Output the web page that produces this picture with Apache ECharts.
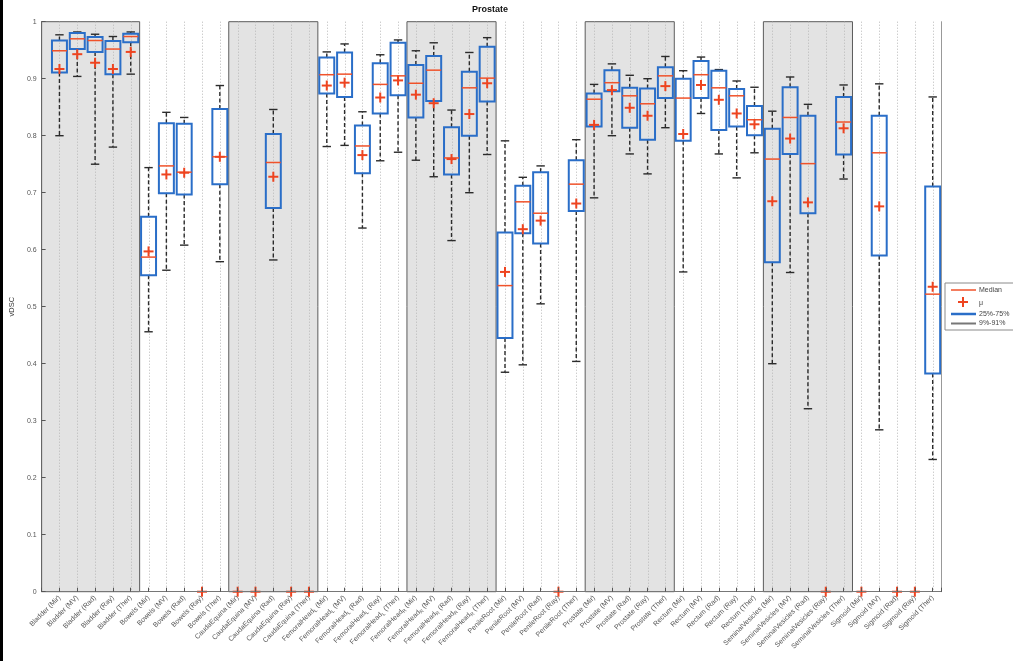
<!DOCTYPE html>
<html>
<head>
<meta charset="utf-8">
<script src="https://cdn.jsdelivr.net/npm/echarts@6/dist/echarts.min.js"></script>
<style>
html,body{margin:0;padding:0;background:#fff;}
#chart{width:1013px;height:661px;}
</style>
</head>
<body>
<div id="chart"></div>
<script>
// ---------------- data ----------------
const categories = [
  'Bladder (Mir)','Bladder (MV)','Bladder (Rad)','Bladder (Ray)','Bladder (Ther)',
  'Bowels (Mir)','Bowels (MV)','Bowels (Rad)','Bowels (Ray)','Bowels (Ther)',
  'CaudaEquina (Mir)','CaudaEquina (MV)','CaudaEquina (Rad)','CaudaEquina (Ray)','CaudaEquina (Ther)',
  'FemoralHead_L (Mir)','FemoralHead_L (MV)','FemoralHead_L (Rad)','FemoralHead_L (Ray)','FemoralHead_L (Ther)',
  'FemoralHead_R (Mir)','FemoralHead_R (MV)','FemoralHead_R (Rad)','FemoralHead_R (Ray)','FemoralHead_R (Ther)',
  'PenileRoot (Mir)','PenileRoot (MV)','PenileRoot (Rad)','PenileRoot (Ray)','PenileRoot (Ther)',
  'Prostate (Mir)','Prostate (MV)','Prostate (Rad)','Prostate (Ray)','Prostate (Ther)',
  'Rectum (Mir)','Rectum (MV)','Rectum (Rad)','Rectum (Ray)','Rectum (Ther)',
  'SeminalVesicles (Mir)','SeminalVesicles (MV)','SeminalVesicles (Rad)','SeminalVesicles (Ray)','SeminalVesicles (Ther)',
  'Sigmoid (Mir)','Sigmoid (MV)','Sigmoid (Rad)','Sigmoid (Ray)','Sigmoid (Ther)'
];
// 9th percentile (lower whisker)
const whiskerLow = [
  0.800,0.904,0.750,0.780,0.908,
  0.456,0.564,0.608,null,0.579,
  null,null,0.582,null,null,
  0.781,0.783,0.638,0.756,0.771,
  0.757,0.728,0.616,0.700,0.767,
  0.385,0.398,0.505,null,0.404,
  0.691,0.800,0.768,0.733,0.814,
  0.561,0.839,0.768,0.726,0.770,
  0.400,0.560,0.321,null,0.724,
  null,0.284,null,null,0.232
];
// 25th percentile
const q1 = [
  0.911,0.952,0.947,0.908,0.964,
  0.555,0.699,0.697,null,0.715,
  null,null,0.673,null,null,
  0.874,0.868,0.734,0.839,0.871,
  0.832,0.861,0.732,0.800,0.860,
  0.445,0.629,0.611,null,0.668,
  0.816,0.878,0.814,0.793,0.866,
  0.791,0.866,0.810,0.816,0.801,
  0.578,0.768,0.664,null,0.767,
  null,0.590,null,null,0.383
];
const median = [
  0.949,0.970,0.967,0.952,0.974,
  0.587,0.747,0.736,null,0.763,
  null,null,0.753,null,null,
  0.907,0.908,0.782,0.890,0.905,
  0.892,0.915,0.761,0.884,0.901,
  0.537,0.684,0.664,null,0.715,
  0.864,0.893,0.870,0.856,0.905,
  0.866,0.907,0.884,0.870,0.828,
  0.759,0.832,0.751,null,0.824,
  null,0.770,null,null,0.522
];
// 75th percentile
const q3 = [
  0.967,0.980,0.973,0.966,0.979,
  0.658,0.822,0.821,null,0.847,
  null,null,0.803,null,null,
  0.937,0.946,0.818,0.927,0.963,
  0.924,0.940,0.815,0.912,0.956,
  0.630,0.712,0.736,null,0.757,
  0.874,0.915,0.884,0.883,0.920,
  0.900,0.931,0.914,0.882,0.852,
  0.812,0.885,0.835,null,0.868,
  null,0.835,null,null,0.711
];
// 91st percentile (upper whisker)
const whiskerHigh = [
  0.977,0.982,0.978,0.974,0.982,
  0.744,0.841,0.832,null,0.888,
  null,null,0.846,null,null,
  0.947,0.961,0.842,0.942,0.968,
  0.949,0.963,0.845,0.946,0.972,
  0.791,0.727,0.747,null,0.793,
  0.890,0.926,0.906,0.900,0.939,
  0.914,0.938,0.916,0.896,0.885,
  0.843,0.903,0.855,null,0.889,
  null,0.891,null,null,0.868
];
const means = [
  0.917,0.943,0.928,0.917,0.947,
  0.597,0.732,0.735,0,0.763,
  0,0,0.728,0,0,
  0.888,0.893,0.766,0.867,0.897,
  0.872,0.857,0.759,0.838,0.892,
  0.561,0.636,0.651,0,0.681,
  0.819,0.880,0.849,0.835,0.887,
  0.803,0.889,0.863,0.839,0.820,
  0.685,0.795,0.683,0,0.813,
  0,0.676,0,0,0.535
];
const yTicks = ['0','0.1','0.2','0.3','0.4','0.5','0.6','0.7','0.8','0.9','1'];
// shaded organ groups (category index ranges, first..last, 1-based)
const shadedGroups = [[1,5],[11,15],[21,25],[31,35],[41,45]];
const legendItems = ['Median','\u03bc','25%-75%','9%-91%'];
const titleText = 'Prostate';
const yName = 'vDSC';

// ---------------- styling ----------------
const FONT = '"Liberation Sans", Arial, sans-serif';
const BLUE = '#2a6ec8';
const RED = '#f0522a';
const MEANRED = '#ee4420';
const LABEL = '#555';

const boxData = [];
for (let i = 0; i < categories.length; i++) {
  if (q1[i] != null) boxData.push([i + 1, whiskerLow[i], q1[i], median[i], q3[i], whiskerHigh[i]]);
}
const meanData = means.map((m, i) => [i + 1, m]);
const gridData = categories.map((c, i) => [i + 1]);
const shadeData = shadedGroups.map((g, k) => [k === 0 ? 0 : g[0] - 0.5, g[1] + 0.5]);

function fmtLabel(name) {
  return name.replace(/_(\w)/, '{sub|$1}');
}

const chart = echarts.init(document.getElementById('chart'), null, {renderer: 'canvas'});
const option = {
  animation: false,
  backgroundColor: '#fff',
  grid: {left: 38.8, right: 71.4, top: 21.7, bottom: 69.3, containLabel: false},
  xAxis: {
    type: 'value', min: 0, max: 50.5, interval: 1, z: 10,
    axisLine: {show: true, lineStyle: {color: '#777', width: 1}},
    axisTick: {show: true, inside: true, length: 4, lineStyle: {color: '#555'}},
    splitLine: {show: false},
    axisLabel: {
      rotate: 45, margin: 5, fontSize: 7, color: LABEL, fontFamily: FONT,
      showMinLabel: true, showMaxLabel: true,
      formatter: function (v) {
        const r = Math.round(v);
        if (Math.abs(v - r) > 1e-6 || r < 1 || r > categories.length) return '';
        return fmtLabel(categories[r - 1]);
      },
      rich: {sub: {fontSize: 5, color: LABEL, fontFamily: FONT, verticalAlign: 'bottom', padding: [4, 0, 0, 0]}}
    }
  },
  yAxis: [{
    type: 'value', min: 0, max: 1, interval: 0.1, z: 10,
    name: yName, nameLocation: 'middle', nameGap: 22, nameRotate: 90,
    nameTextStyle: {fontSize: 7.5, color: '#333', fontFamily: FONT},
    axisLine: {show: true, lineStyle: {color: '#666'}},
    axisTick: {show: true, inside: true, length: 4, lineStyle: {color: '#555'}},
    splitLine: {show: false},
    axisLabel: {
      fontSize: 7, color: LABEL, fontFamily: FONT, margin: 5,
      formatter: function (v) { return yTicks[Math.round(v * 10)]; }
    }
  }, {
    type: 'value', min: 0, max: 1, position: 'right', z: 10,
    axisLine: {show: true, lineStyle: {color: '#999'}},
    axisTick: {show: false}, axisLabel: {show: false}, splitLine: {show: false}
  }],
  series: [
    {
      type: 'custom', name: 'shade', z: 1, silent: true,
      data: shadeData,
      renderItem: function (params, api) {
        const p0 = api.coord([api.value(0), 1]);
        const p1 = api.coord([api.value(1), 0]);
        return {type: 'rect', shape: {x: p0[0], y: p0[1], width: p1[0] - p0[0], height: p1[1] - p0[1]},
          style: {fill: '#e3e3e3', stroke: '#5c5c5c', lineWidth: 1}};
      }
    },
    {
      type: 'custom', name: 'grid', z: 2, silent: true,
      data: gridData,
      renderItem: function (params, api) {
        const p0 = api.coord([api.value(0), 1]);
        const p1 = api.coord([api.value(0), 0]);
        return {type: 'line', shape: {x1: Math.round(p0[0]) + 0.5, y1: p0[1], x2: Math.round(p1[0]) + 0.5, y2: p1[1]},
          style: {stroke: '#b8b8b8', lineWidth: 1, lineDash: [1, 2]}};
      }
    },
    {
      type: 'custom', name: 'box', z: 3, silent: true,
      data: boxData,
      renderItem: function (params, api) {
        const x = api.value(0);
        const unit = api.size([1, 0])[0];
        const hw = unit * 0.42;
        const capw = 4.2;
        const pl = api.coord([x, api.value(1)]);
        const pq1 = api.coord([x, api.value(2)]);
        const pm = api.coord([x, api.value(3)]);
        const pq3 = api.coord([x, api.value(4)]);
        const ph = api.coord([x, api.value(5)]);
        const cx = pl[0];
        const wStyle = {stroke: '#2b2b2b', lineWidth: 1.4, lineDash: [4, 2.5]};
        const cStyle = {stroke: '#2b2b2b', lineWidth: 1.4};
        return {type: 'group', children: [
          {type: 'line', shape: {x1: cx, y1: pq3[1], x2: cx, y2: ph[1]}, style: wStyle},
          {type: 'line', shape: {x1: cx, y1: pq1[1], x2: cx, y2: pl[1]}, style: wStyle},
          {type: 'line', shape: {x1: cx - capw, y1: ph[1], x2: cx + capw, y2: ph[1]}, style: cStyle},
          {type: 'line', shape: {x1: cx - capw, y1: pl[1], x2: cx + capw, y2: pl[1]}, style: cStyle},
          {type: 'rect', shape: {x: cx - hw, y: pq3[1], width: 2 * hw, height: pq1[1] - pq3[1]},
            style: {fill: null, stroke: BLUE, lineWidth: 2}},
          {type: 'line', shape: {x1: cx - hw, y1: pm[1], x2: cx + hw, y2: pm[1]}, style: {stroke: RED, lineWidth: 1.5}}
        ]};
      }
    },
    {
      type: 'custom', name: 'mean', z: 4, silent: true,
      data: meanData,
      renderItem: function (params, api) {
        const p = api.coord([api.value(0), api.value(1)]);
        const s = 5;
        const st = {stroke: MEANRED, lineWidth: 2};
        return {type: 'group', z2: 5, children: [
          {type: 'line', shape: {x1: p[0] - s, y1: p[1], x2: p[0] + s, y2: p[1]}, style: st},
          {type: 'line', shape: {x1: p[0], y1: p[1] - s, x2: p[0], y2: p[1] + s}, style: st}
        ]};
      }
    }
  ],
  graphic: [
    {type: 'rect', left: 0, top: 0, shape: {width: 3, height: 661}, style: {fill: '#000'}},
    {type: 'text', x: 490, y: 10, style: {text: titleText, font: 'bold 9px ' + FONT, fill: '#111', textAlign: 'center', textVerticalAlign: 'middle'}},
    {type: 'group', x: 0, y: 0, children: [
      {type: 'rect', shape: {x: 945, y: 283, width: 80, height: 47}, style: {fill: '#fff', stroke: '#8a8a8a', lineWidth: 1}},
      {type: 'line', shape: {x1: 951, y1: 290, x2: 976, y2: 290}, style: {stroke: RED, lineWidth: 1.5}},
      {type: 'text', x: 979, y: 290, style: {text: legendItems[0], font: '7px ' + FONT, fill: '#444', textVerticalAlign: 'middle'}},
      {type: 'line', shape: {x1: 958, y1: 302, x2: 968, y2: 302}, style: {stroke: MEANRED, lineWidth: 2}},
      {type: 'line', shape: {x1: 963, y1: 297, x2: 963, y2: 307}, style: {stroke: MEANRED, lineWidth: 2}},
      {type: 'text', x: 979, y: 303, style: {text: legendItems[1], font: '7px ' + FONT, fill: '#444', textVerticalAlign: 'middle'}},
      {type: 'line', shape: {x1: 951, y1: 314, x2: 976, y2: 314}, style: {stroke: BLUE, lineWidth: 2.5}},
      {type: 'text', x: 979, y: 314, style: {text: legendItems[2], font: '7px ' + FONT, fill: '#444', textVerticalAlign: 'middle'}},
      {type: 'line', shape: {x1: 951, y1: 323.5, x2: 976, y2: 323.5}, style: {stroke: '#777', lineWidth: 2}},
      {type: 'text', x: 979, y: 323.5, style: {text: legendItems[3], font: '7px ' + FONT, fill: '#444', textVerticalAlign: 'middle'}}
    ]}
  ]
};
chart.setOption(option);
</script>
</body>
</html>
